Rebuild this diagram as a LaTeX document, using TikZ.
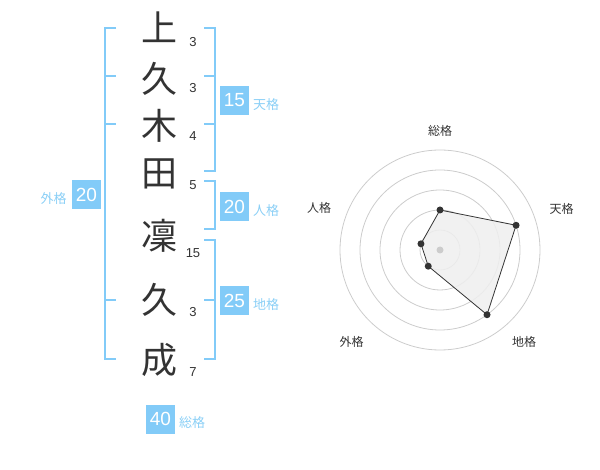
\documentclass[tikz,border=0pt]{standalone}
\usepackage{fontspec}
\setmainfont{Liberation Sans}
\newfontfamily\cjk{Noto Sans CJK JP}
\definecolor{brk}{HTML}{82CBF8}
\definecolor{lbl}{HTML}{8ACFF6}
\definecolor{ink}{HTML}{333333}
\definecolor{ring}{HTML}{CCCCCC}
\definecolor{area}{HTML}{EFEFEF}
\begin{document}
\begin{tikzpicture}[x=1pt,y=-1pt,
  kanji/.style={font=\cjk\fontsize{36}{36}\selectfont,text=ink,inner sep=0pt},
  stroke/.style={font=\fontsize{13}{13}\selectfont,text=ink,inner sep=0pt},
  brkline/.style={draw=brk,line width=2pt},
  valbox/.style={fill=brk,text=white,font=\fontsize{19}{19}\selectfont,minimum width=29pt,minimum height=29pt,inner sep=0pt},
  kaku/.style={text=lbl,font=\cjk\fontsize{13}{13}\selectfont,inner sep=0pt},
  rlabel/.style={text=ink,font=\cjk\fontsize{12}{12}\selectfont,inner sep=0pt},
  dot/.style={circle,fill=ink,inner sep=0pt,minimum size=7pt}]
\useasboundingbox (0,0) rectangle (600,470);
% characters
\node[kanji] (c1) at (159,27) {上};
\node[kanji] (c2) at (159,79) {久};
\node[kanji] (c3) at (159,126) {木};
\node[kanji] (c4) at (159,174) {田};
\node[kanji] (c5) at (159,236) {凜};
\node[kanji] (c6) at (159,300) {久};
\node[kanji] (c7) at (159,360) {成};
% stroke counts
\node[stroke] (n1) at (193,42) {3};
\node[stroke] (n2) at (193,88.5) {3};
\node[stroke] (n3) at (193,136.5) {4};
\node[stroke] (n4) at (193,185) {5};
\node[stroke] (n5) at (193,253) {15};
\node[stroke] (n6) at (193,312.5) {3};
\node[stroke] (n7) at (193,372.5) {7};
% left bracket (gaikaku)
\draw[brkline] (116,28.5) -- (105,28.5) -- (105,359.5) -- (116,359.5);
\draw[brkline] (105,76) -- (116,76);
\draw[brkline] (105,124) -- (116,124);
\draw[brkline] (105,300) -- (116,300);
\node[valbox] (gv) at (86.5,194.5) {20};
\node[kaku] (gl) at (53.5,199) {外格};
% right bracket tenkaku
\draw[brkline] (204,28.5) -- (214.5,28.5) -- (214.5,171.5) -- (204,171.5);
\draw[brkline] (204,76) -- (214.5,76);
\draw[brkline] (204,124) -- (214.5,124);
\node[valbox] (tv) at (234.5,100.5) {15};
\node[kaku] (tl) at (266,104.5) {天格};
% jinkaku
\draw[brkline] (204,181.5) -- (214.5,181.5) -- (214.5,229.5) -- (204,229.5);
\node[valbox] (jv) at (234.5,206.5) {20};
\node[kaku] (jl) at (266,210.5) {人格};
% chikaku
\draw[brkline] (204,240) -- (214.5,240) -- (214.5,359.5) -- (204,359.5);
\draw[brkline] (204,300) -- (214.5,300);
\node[valbox] (cv) at (234.5,300.5) {25};
\node[kaku] (cl) at (266,304.5) {地格};
% soukaku
\node[valbox] (sv) at (160.5,419) {40};
\node[kaku] (sl) at (192,422.5) {総格};
% radar chart
\begin{scope}[shift={(440,250)},yscale=-1]
  \foreach \r in {20,40,60,80,100} \draw[ring,line width=0.8pt] (0,0) circle[radius=\r pt];
  \coordinate (p1) at (90:40);
  \coordinate (p2) at (18:80);
  \coordinate (p3) at (-54:80);
  \coordinate (p4) at (-126:20);
  \coordinate (p5) at (162:20);
  \fill[area,opacity=0.85] (p1) -- (p2) -- (p3) -- (p4) -- (p5) -- cycle;
  \fill[ring] (0,0) circle[radius=3.5pt];
  \draw[ink,line width=0.8pt] (p1) -- (p2) -- (p3) -- (p4) -- (p5) -- cycle;
  \foreach \p in {p1,p2,p3,p4,p5} \node[dot] at (\p) {};
  \node[rlabel] (r1) at (0,119.5) {総格};
  \node[rlabel] (r2) at (121.5,41.5) {天格};
  \node[rlabel] (r3) at (84,-92) {地格};
  \node[rlabel] (r4) at (-88.5,-92) {外格};
  \node[rlabel] (r5) at (-121,42) {人格};
\end{scope}
\end{tikzpicture}
\end{document}
